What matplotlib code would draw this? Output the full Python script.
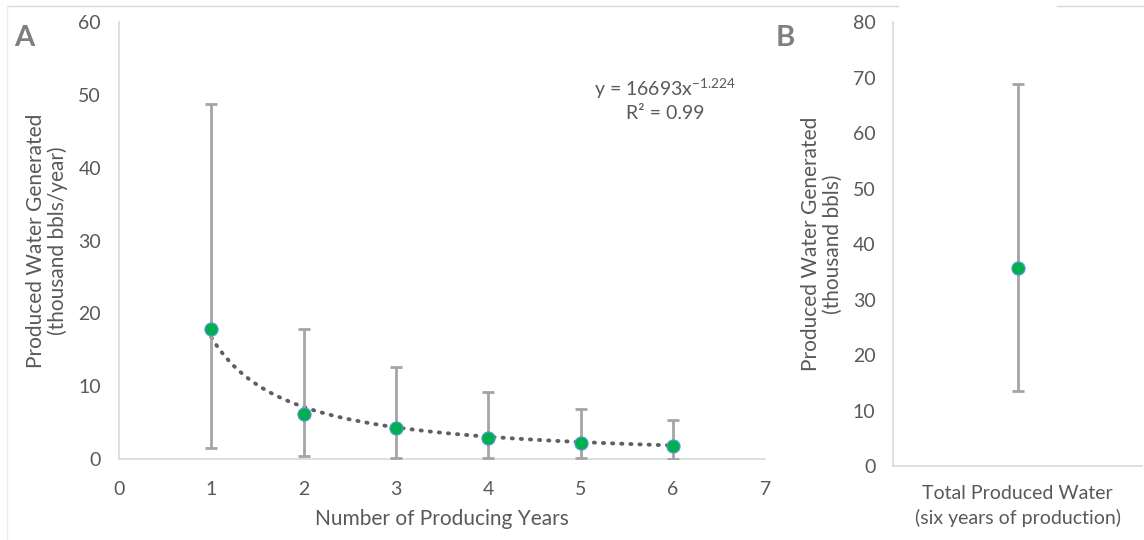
import numpy as np
import matplotlib
matplotlib.use("Agg")
import matplotlib.pyplot as plt
from matplotlib.lines import Line2D

plt.rcParams['font.family'] = ['Lato', 'DejaVu Sans']
plt.rcParams['mathtext.fontset'] = 'custom'
plt.rcParams['mathtext.rm'] = 'Lato'

# Annual produced water per well (thousand bbls/year)
years = [1, 2, 3, 4, 5, 6]
annual_mean = [17.8, 6.2, 4.3, 2.9, 2.2, 1.8]
annual_high = [48.7, 17.9, 12.6, 9.2, 6.9, 5.4]
annual_low = [1.5, 0.4, 0.1, 0.1, 0.1, 0.05]

# Power-law fit y = a * x^b (a in bbls)
fit_a = 16693
fit_b = -1.224
fit_r2 = 0.99

# Cumulative produced water over six years (thousand bbls)
total_label = ["Total Produced Water\n(six years of production)"]
total_mean = [35.7]
total_high = [68.9]
total_low = [13.5]

TXT = '#595959'
SPINE = '#d9d9d9'
BAR = '#a5a5a5'
GREEN = '#00b050'
EDGE = '#5b9bd5'
TICK_FS = 14
LABEL_FS = 15

fig = plt.figure(figsize=(11.44, 5.4), dpi=100)

# ---- Panel A ----
axA = fig.add_axes([0.104, 0.15, 0.565, 0.809])
yerr_lo = np.array(annual_mean) - np.array(annual_low)
yerr_hi = np.array(annual_high) - np.array(annual_mean)
xs = np.linspace(1, 6, 200)
axA.plot(xs, fit_a * xs ** fit_b / 1000, linestyle=(0, (0.3, 2.05)), color='#5f5f5f',
         linewidth=2.8, dash_capstyle='round', zorder=2)
axA.errorbar(years, annual_mean, yerr=[yerr_lo, yerr_hi], fmt='none', ecolor=BAR,
             elinewidth=2, capsize=4, capthick=2, zorder=3)
axA.plot(years, annual_mean, 'o', color=GREEN, markersize=9.5, markeredgecolor=EDGE,
         markeredgewidth=0.8, zorder=4)
axA.set_xlim(0, 7)
axA.set_ylim(0, 60)
axA.set_xticks(range(0, 8))
axA.set_yticks(range(0, 61, 10))
axA.set_xlabel("Number of Producing Years", fontsize=LABEL_FS, color=TXT, labelpad=8)
axA.set_ylabel("Produced Water Generated\n(thousand bbls/year)", fontsize=LABEL_FS,
               color=TXT, labelpad=7, linespacing=1.1)
axA.text(0.845, 0.849, r"y = 16693x$^{\mathregular{-1.224}}$", transform=axA.transAxes,
         ha='center', va='center', fontsize=14, color=TXT)
axA.text(0.845, 0.792, "R² = 0.99", transform=axA.transAxes,
         ha='center', va='center', fontsize=14, color=TXT)

# ---- Panel B ----
axB = fig.add_axes([0.781, 0.137, 0.217, 0.822])
axB.errorbar([0], total_mean,
             yerr=[[total_mean[0] - total_low[0]], [total_high[0] - total_mean[0]]],
             fmt='none', ecolor=BAR, elinewidth=2, capsize=4, capthick=2, zorder=3)
axB.plot([0], total_mean, 'o', color=GREEN, markersize=9.5, markeredgecolor=EDGE,
         markeredgewidth=0.8, zorder=4)
axB.set_xlim(-0.5, 0.5)
axB.set_ylim(0, 80)
axB.set_yticks(range(0, 81, 10))
axB.set_xticks([0])
axB.set_xticklabels(total_label, fontsize=LABEL_FS, color=TXT, linespacing=1.4)
axB.set_ylabel("Produced Water Generated\n(thousand bbls)", fontsize=LABEL_FS, color=TXT,
               labelpad=7, linespacing=1.1)

for ax in (axA, axB):
    for s in ('top', 'right'):
        ax.spines[s].set_visible(False)
    for s in ('left', 'bottom'):
        ax.spines[s].set_color(SPINE)
        ax.spines[s].set_linewidth(1.2)
    ax.tick_params(length=0, colors=TXT, labelsize=TICK_FS, pad=13)

axA.tick_params(axis='x', pad=16)
axB.tick_params(axis='x', pad=14)

fig.text(0.012, 0.915, "A", fontsize=21, fontweight='bold', color='#7f7f7f')
fig.text(0.678, 0.915, "B", fontsize=21, fontweight='bold', color='#7f7f7f')

# light chart-area frame lines
fig.add_artist(Line2D([0.006, 0.785], [0.989, 0.989], color='#d9d9d9', lw=1))
fig.add_artist(Line2D([0.924, 1.0], [0.989, 0.989], color='#d9d9d9', lw=1))
fig.add_artist(Line2D([0.006, 0.006], [0.0, 0.989], color='#ececec', lw=1))

fig.savefig("out.png", dpi=100, facecolor='white')
